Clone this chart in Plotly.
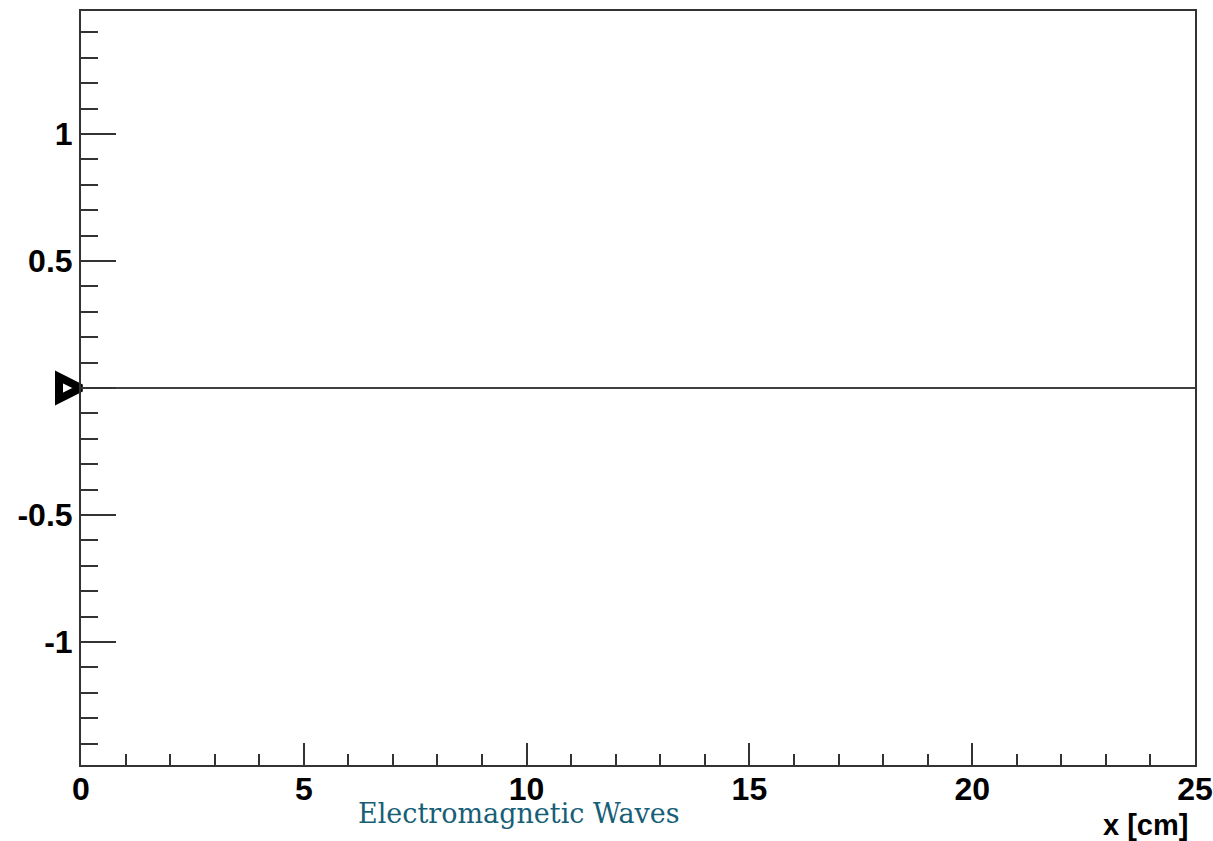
import plotly.graph_objects as go

# Data
line_x = [0, 25]
line_y = [0, 0]
marker_x = [0]
marker_y = [0]
x_ticks = [0, 5, 10, 15, 20, 25]
x_labels = ["0", "5", "10", "15", "20", "25"]
y_ticks = [-1, -0.5, 0, 0.5, 1]
y_labels = ["-1", "-0.5", "", "0.5", "1"]

title_text = "Electromagnetic Waves"
x_title = "x [cm]"

fig = go.Figure()
fig.add_trace(go.Scatter(x=line_x, y=line_y, mode="lines",
                         line=dict(color="black", width=1.6),
                         hoverinfo="skip", showlegend=False))
fig.add_trace(go.Scatter(x=marker_x, y=marker_y, mode="markers",
                         marker=dict(symbol="arrow-right-open", size=22, color="black",
                                     line=dict(color="black", width=8)),
                         cliponaxis=False, showlegend=False))

axis_common = dict(showline=True, mirror=True, linecolor="#333333", linewidth=2,
                   showgrid=False, zeroline=False, ticks="inside", tickcolor="#333333",
                   tickwidth=2, automargin=False,
                   tickfont=dict(family="Liberation Sans", size=32, color="black",
                                 weight="bold"))

fig.update_layout(
    width=1213, height=841, autosize=False,
    margin=dict(l=81, r=18, t=11, b=76),
    paper_bgcolor="white", plot_bgcolor="white",
    xaxis=dict(range=[0, 25], tickmode="array", tickvals=x_ticks,
               ticktext=x_labels, ticklen=22, ticklabelstandoff=-5,
               minor=dict(tickmode="linear", tick0=0, dtick=1, ticklen=11, ticks="inside",
                          tickcolor="#333333", tickwidth=2, showgrid=False),
               **axis_common),
    yaxis=dict(range=[-1.484, 1.484], tickmode="array", tickvals=y_ticks, ticktext=y_labels,
               ticklen=35,
               minor=dict(tickmode="linear", tick0=0, dtick=0.1, ticklen=17, ticks="inside",
                          tickcolor="#333333", tickwidth=2, showgrid=False),
               **axis_common),
    annotations=[
        dict(text=x_title, xref="paper", yref="paper", x=0.9955, y=-0.079,
             xanchor="right", yanchor="middle", showarrow=False,
             font=dict(family="Liberation Sans", size=29, color="black", weight="bold")),
        dict(text=title_text, xref="paper", yref="paper", x=0.393, y=-0.064,
             xanchor="center", yanchor="middle", showarrow=False,
             font=dict(family="DejaVu Serif", size=27, color="#175f76")),
    ],
)

fig.write_html("out.html",
               config={"responsive": False, "displayModeBar": False},
               post_script="document.body.style.margin='0';document.body.style.overflow='hidden';")
